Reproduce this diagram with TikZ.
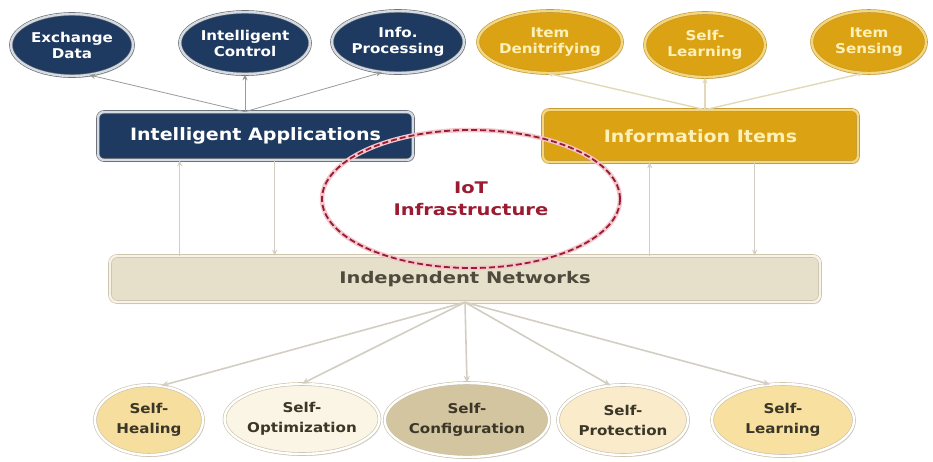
\documentclass[tikz,border=0pt]{standalone}
\usepackage{fontspec}
\setmainfont{DejaVu Sans}
\newfontfamily\fa[FakeStretch=1.12]{DejaVu Sans}
\newfontfamily\fb[FakeStretch=1.22]{DejaVu Sans}
\usetikzlibrary{shapes.geometric,arrows.meta,shadows}
\definecolor{navy}{HTML}{1F3A60}
\definecolor{navyring}{HTML}{D6DBE2}
\definecolor{navyout}{HTML}{5E6670}
\definecolor{gold}{HTML}{DBA314}
\definecolor{goldring}{HTML}{F4D67E}
\definecolor{goldout}{HTML}{C2962C}
\definecolor{goldtext}{HTML}{FDF0B8}
\definecolor{netfill}{HTML}{E6DFC9}
\definecolor{netring}{HTML}{F7F3E8}
\definecolor{netout}{HTML}{C9C0A8}
\definecolor{iotred}{HTML}{9B1B30}
\definecolor{iotpink}{HTML}{F2C6CC}
\definecolor{ctext}{HTML}{3A3628}
\definecolor{fheal}{HTML}{F6DE9F}
\definecolor{fopt}{HTML}{FAF5E4}
\definecolor{fconf}{HTML}{D3C5A0}
\definecolor{fprot}{HTML}{FAEBCB}
\definecolor{flearn}{HTML}{F7E0A0}
\definecolor{linegray}{HTML}{9A9A9A}
\definecolor{linegold}{HTML}{E3D8B8}
\definecolor{linelight}{HTML}{D2CEC2}
\begin{document}
\begin{tikzpicture}[x=1pt,y=-1pt,
  shd/.style={drop shadow={opacity=0.25,shadow xshift=1.5pt,shadow yshift=-2pt}},
  topell/.style={ellipse,shd,align=center,inner sep=0pt,line width=0.6pt,double distance=2.4pt,
    font=\fa\bfseries\fontsize{13.5}{16}\selectfont},
  navyell/.style={topell,fill=navy,draw=navyout,double=navyring,text=white},
  goldell/.style={topell,fill=gold,draw=goldout,double=goldring,text=goldtext},
  bigbox/.style={rectangle,rounded corners=6pt,shd,line width=0.6pt,double distance=2.4pt,
    minimum width=315pt,font=\fa\bfseries\fontsize{17}{20}\selectfont},
  botell/.style={ellipse,shd,align=center,inner sep=0pt,draw=netout,line width=0.6pt,
    double=white,double distance=2.4pt,text=ctext,
    font=\fa\bfseries\fontsize{13.5}{20}\selectfont},
  upl/.style={draw=linegray,line width=0.8pt,-{Stealth[length=6pt,width=5pt,fill=navy!80!black]}},
  upg/.style={draw=linegold,line width=1.4pt,-{Stealth[length=6pt,width=5pt,fill=gold]}},
  vline/.style={draw=linelight,line width=1.4pt,-{Stealth[length=6pt,width=5pt]}},
  dline/.style={draw=linelight,line width=1.6pt,-{Stealth[length=7pt,width=6pt]}}
]
\useasboundingbox (0,0) rectangle (933,461);
\fill[white] (0,0) rectangle (933,461);

% top ellipses
\node[navyell,minimum width=122pt,minimum height=62pt] (ed) at (72,45) {Exchange\\Data};
\node[navyell,minimum width=130pt,minimum height=62pt] (ic) at (245,43) {Intelligent\\Control};
\node[navyell,minimum width=132pt,minimum height=62pt] (ip) at (398,42) {Info.\\Processing};
\node[goldell,minimum width=128pt,minimum height=62pt] (id) at (550,42) {Item\\Denitrifying};
\node[goldell,minimum width=120pt,minimum height=64pt] (sl) at (705,45) {Self-\\Learning};
\node[goldell,minimum width=114pt,minimum height=62pt] (is) at (869,42) {Item\\Sensing};

% main boxes
\node[bigbox,fill=navy,draw=navyout,double=navyring,text=white,minimum height=48pt] (ia) at (255.5,136) {Intelligent Applications};
\node[bigbox,fill=gold,draw=goldout,double=goldring,text=goldtext,minimum height=52pt] (ii) at (700.5,136) {Information Items};
\node[rectangle,rounded corners=7pt,shd,fill=netfill,draw=netout,line width=0.6pt,double=netring,double distance=2.4pt,
  minimum width=710pt,minimum height=46pt,text=ctext!90,font=\fb\bfseries\fontsize{16}{19}\selectfont] (net) at (465,279) {Independent Networks};

% bottom ellipses
\node[botell,fill=fheal,minimum width=108pt,minimum height=70pt] (sh) at (149,420) {Self-\\Healing};
\node[botell,fill=fopt,minimum width=142pt,minimum height=70pt] (so) at (302,419) {Self-\\Optimization};
\node[botell,fill=fconf,minimum width=156pt,minimum height=74pt] (sc) at (467,420) {Self-\\Configuration};
\node[botell,fill=fprot,minimum width=130pt,minimum height=70pt] (sp) at (623,420) {Self-\\Protection};
\node[botell,fill=flearn,minimum width=142pt,minimum height=72pt] (slb) at (783,420) {Self-\\Learning};

% top connectors
\draw[upl] (ia.north -| ic.south) -- (ed.-60);
\draw[upl] (ia.north -| ic.south) -- (ic.south);
\draw[upl] (ia.north -| ic.south) -- (ip.-118);
\draw[upg] (ii.north -| sl.south) -- (id.-95);
\draw[upg] (ii.north -| sl.south) -- (sl.south);
\draw[upg] (ii.north -| sl.south) -- (is.-100);

% vertical connectors
\draw[vline] ([xshift=82pt]ia.south west |- net.north) -- ([xshift=82pt]ia.south west);
\draw[vline] ([xshift=177pt]ia.south west) -- ([xshift=177pt]ia.south west |- net.north);
\draw[vline] ([xshift=107pt]ii.south west |- net.north) -- ([xshift=107pt]ii.south west);
\draw[vline] ([xshift=212pt]ii.south west) -- ([xshift=212pt]ii.south west |- net.north);

% bottom connectors
\draw[dline] (net.south) -- (sh.70);
\draw[dline] (net.south) -- (so.north);
\draw[dline] (net.south) -- (sc.north);
\draw[dline] (net.south) -- (sp.110);
\draw[dline] (net.south) -- (slb.110);

% IoT infrastructure
\node[ellipse,minimum width=298pt,minimum height=138pt,align=center,text=iotred,
  font=\fb\bfseries\fontsize{16}{22}\selectfont,
  draw=iotred,line width=1.8pt,dash pattern=on 6pt off 3pt,
  preaction={draw=iotpink,line width=4.5pt,solid}] (iot) at (471,199) {IoT\\Infrastructure};
\end{tikzpicture}
\end{document}
